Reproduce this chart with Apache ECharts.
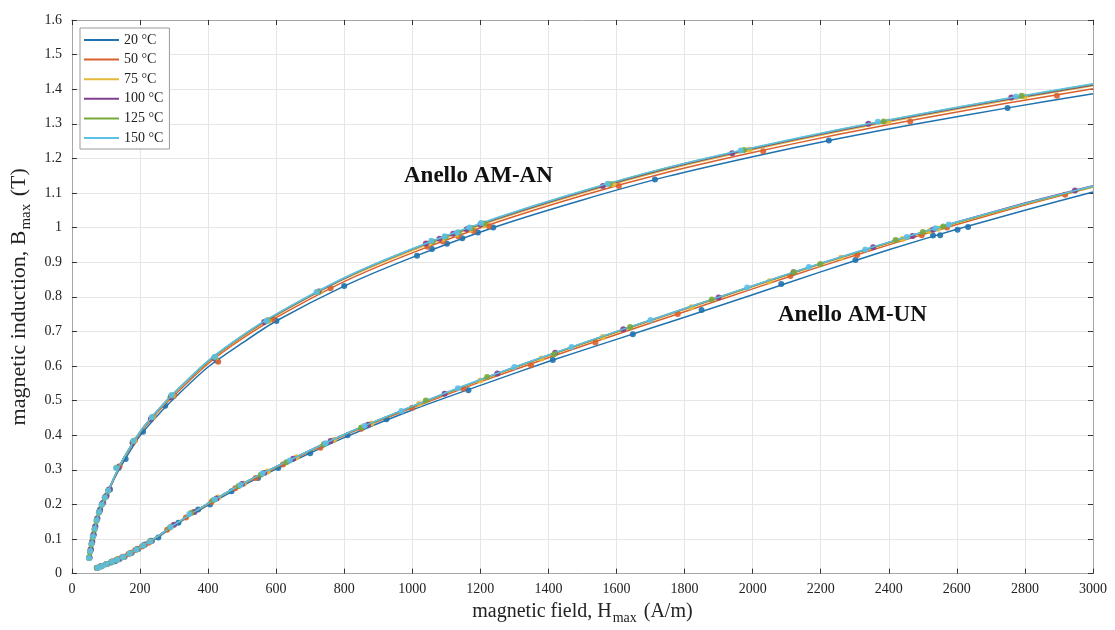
<!DOCTYPE html>
<html>
<head>
<meta charset="UTF-8">
<title>B-H curves</title>
<script type="text/javascript" src="https://cdn.jsdelivr.net/npm/echarts@6/dist/echarts.min.js"></script>
<style>
  html, body { margin: 0; padding: 0; background: #fff; }
</style>
</head>
<body>
<div id="main" style="width: 1115px; height: 630px;"></div>
<script type="text/javascript">
// temperatures / colours
var temps = ['20 °C', '50 °C', '75 °C', '100 °C', '125 °C', '150 °C'];
var colors = ['#1f72ae', '#d9602e', '#e6b93a', '#7e3f8e', '#78a83a', '#5cbfe6'];

// fitted curves, Anello AM-AN (H in A/m, B in T)
var hAN = [50, 60, 70, 80, 100, 125, 150, 200, 250, 300, 400, 500, 600, 800, 1000, 1250, 1500, 1750, 2000, 2250, 2500, 2750, 3000];
var bAN20  = [0.042, 0.090, 0.138, 0.172, 0.220, 0.275, 0.320, 0.398, 0.455, 0.506, 0.597, 0.666, 0.730, 0.831, 0.914, 1.004, 1.080, 1.148, 1.205, 1.257, 1.303, 1.346, 1.387];
var bAN50  = [0.044, 0.093, 0.140, 0.177, 0.223, 0.278, 0.327, 0.405, 0.464, 0.515, 0.607, 0.679, 0.740, 0.844, 0.927, 1.016, 1.093, 1.160, 1.217, 1.269, 1.316, 1.360, 1.401];
var bAN75  = [0.044, 0.094, 0.140, 0.178, 0.224, 0.280, 0.329, 0.408, 0.467, 0.519, 0.611, 0.684, 0.746, 0.851, 0.934, 1.023, 1.100, 1.168, 1.225, 1.277, 1.324, 1.368, 1.410];
var bAN100 = [0.045, 0.094, 0.141, 0.178, 0.225, 0.280, 0.330, 0.409, 0.469, 0.521, 0.613, 0.686, 0.748, 0.853, 0.937, 1.026, 1.103, 1.171, 1.228, 1.280, 1.327, 1.371, 1.412];
var bAN125 = [0.045, 0.095, 0.141, 0.178, 0.225, 0.280, 0.330, 0.410, 0.470, 0.522, 0.614, 0.687, 0.749, 0.854, 0.938, 1.028, 1.105, 1.173, 1.230, 1.282, 1.329, 1.373, 1.414];
var bAN150 = [0.046, 0.095, 0.140, 0.178, 0.225, 0.280, 0.330, 0.410, 0.470, 0.522, 0.615, 0.688, 0.750, 0.855, 0.939, 1.029, 1.106, 1.174, 1.231, 1.283, 1.330, 1.374, 1.416];

// measured points, Anello AM-AN [H, B]
var pAN20 = [[52,0.046],[56,0.070],[60,0.092],[64,0.113],[69,0.137],[75,0.160],[83,0.185],[92,0.205],[102,0.225],[112,0.243],[137,0.305],[158,0.331],[209,0.410],[274,0.485],[425,0.616],[601,0.730],[800,0.831],[1014,0.919],[1058,0.938],[1102,0.953],[1147,0.969],[1193,0.986],[1238,1.000],[1713,1.139],[2224,1.252],[2749,1.346]];
var pAN50 = [[51,0.046],[55,0.068],[59,0.090],[63,0.110],[68,0.133],[74,0.158],[81,0.180],[90,0.203],[100,0.222],[110,0.242],[140,0.310],[185,0.385],[240,0.453],[300,0.515],[430,0.612],[590,0.735],[760,0.825],[1045,0.945],[1090,0.960],[1135,0.975],[1180,0.990],[1225,1.004],[1607,1.120],[2031,1.221],[2463,1.307],[2894,1.381]];
var pAN75 = [[50,0.046],[54,0.066],[58,0.088],[62,0.108],[67,0.131],[73,0.156],[80,0.178],[88,0.200],[97,0.221],[107,0.241],[133,0.306],[183,0.384],[238,0.452],[296,0.515],[422,0.624],[578,0.730],[730,0.815],[1050,0.955],[1090,0.968],[1130,0.981],[1170,0.994],[1210,1.006],[1590,1.125],[1990,1.225],[2400,1.307],[2800,1.379]];
var pAN100 = [[51,0.047],[55,0.070],[59,0.091],[63,0.111],[68,0.134],[74,0.158],[81,0.180],[89,0.202],[99,0.223],[109,0.243],[135,0.307],[178,0.378],[232,0.447],[290,0.510],[418,0.623],[565,0.727],[725,0.815],[1040,0.954],[1080,0.968],[1120,0.982],[1160,0.995],[1200,1.009],[1560,1.120],[1940,1.215],[2340,1.300],[2760,1.376]];
var pAN125 = [[50,0.045],[53,0.062],[57,0.084],[61,0.104],[66,0.127],[72,0.152],[79,0.176],[87,0.198],[96,0.219],[106,0.239],[131,0.306],[180,0.382],[236,0.452],[292,0.514],[420,0.625],[575,0.732],[722,0.814],[1060,0.960],[1098,0.973],[1136,0.986],[1174,0.999],[1212,1.012],[1580,1.126],[1975,1.224],[2385,1.307],[2790,1.381]];
var pAN150 = [[50,0.045],[54,0.065],[58,0.087],[62,0.107],[67,0.130],[73,0.155],[80,0.178],[88,0.200],[97,0.220],[107,0.240],[130,0.305],[181,0.384],[235,0.452],[293,0.516],[420,0.627],[572,0.731],[719,0.814],[1056,0.962],[1095,0.975],[1132,0.986],[1168,1.000],[1202,1.013],[1574,1.127],[1965,1.223],[2368,1.306],[2774,1.379]];

// fitted curves, Anello AM-UN
var hUN = [73, 100, 150, 200, 250, 300, 400, 500, 600, 800, 1000, 1200, 1400, 1600, 1800, 2000, 2200, 2400, 2600, 2800, 3000];
var bUN20  = [0.017, 0.027, 0.047, 0.074, 0.103, 0.138, 0.198, 0.253, 0.302, 0.393, 0.473, 0.544, 0.613, 0.677, 0.741, 0.806, 0.872, 0.936, 0.995, 1.050, 1.103];
var bUN50  = [0.016, 0.027, 0.048, 0.075, 0.105, 0.140, 0.201, 0.257, 0.306, 0.399, 0.479, 0.554, 0.624, 0.691, 0.757, 0.823, 0.888, 0.950, 1.009, 1.065, 1.117];
var bUN75  = [0.016, 0.027, 0.048, 0.076, 0.106, 0.141, 0.202, 0.258, 0.308, 0.401, 0.482, 0.558, 0.629, 0.697, 0.763, 0.829, 0.894, 0.955, 1.013, 1.068, 1.118];
var bUN100 = [0.016, 0.027, 0.048, 0.076, 0.106, 0.141, 0.203, 0.259, 0.309, 0.402, 0.483, 0.560, 0.631, 0.699, 0.765, 0.831, 0.896, 0.957, 1.016, 1.071, 1.121];
var bUN125 = [0.016, 0.027, 0.048, 0.076, 0.106, 0.141, 0.203, 0.259, 0.309, 0.402, 0.483, 0.560, 0.631, 0.699, 0.766, 0.831, 0.896, 0.957, 1.015, 1.069, 1.119];
var bUN150 = [0.016, 0.027, 0.048, 0.076, 0.106, 0.141, 0.203, 0.259, 0.309, 0.402, 0.484, 0.561, 0.632, 0.700, 0.766, 0.832, 0.897, 0.958, 1.016, 1.070, 1.120];

// measured points, Anello AM-UN
var pUN20 = [[73,0.017],[85,0.021],[100,0.027],[115,0.032],[127,0.036],[140,0.042],[155,0.049],[176,0.060],[195,0.071],[215,0.084],[235,0.094],[254,0.104],[313,0.147],[371,0.185],[406,0.200],[469,0.238],[547,0.276],[606,0.305],[700,0.348],[810,0.400],[924,0.446],[1165,0.530],[1413,0.617],[1648,0.692],[1850,0.762],[2084,0.837],[2302,0.906],[2530,0.977],[2551,0.978],[2602,0.994],[2633,1.002]];
var pUN50 = [[74,0.016],[86,0.021],[101,0.027],[116,0.034],[131,0.040],[147,0.047],[166,0.057],[186,0.068],[206,0.078],[226,0.089],[280,0.127],[335,0.162],[410,0.207],[480,0.247],[540,0.276],[620,0.315],[730,0.364],[850,0.419],[1000,0.479],[1150,0.535],[1349,0.602],[1538,0.668],[1780,0.750],[2111,0.860],[2307,0.921],[2497,0.978],[2571,1.000],[2918,1.095]];
var pUN75 = [[76,0.017],[89,0.022],[104,0.028],[120,0.035],[136,0.042],[153,0.049],[173,0.060],[193,0.072],[213,0.083],[233,0.095],[295,0.138],[355,0.177],[430,0.220],[505,0.260],[575,0.295],[660,0.336],[770,0.386],[880,0.434],[1020,0.490],[1200,0.558],[1380,0.622],[1560,0.684],[1820,0.770],[2050,0.845],[2260,0.913],[2440,0.967],[2520,0.990],[2545,0.997]];
var pUN100 = [[75,0.017],[87,0.021],[103,0.028],[119,0.035],[135,0.041],[152,0.049],[172,0.059],[192,0.071],[212,0.083],[232,0.095],[300,0.141],[360,0.178],[425,0.217],[500,0.259],[565,0.291],[650,0.332],[760,0.383],[870,0.430],[1095,0.520],[1250,0.578],[1420,0.638],[1620,0.706],[1900,0.798],[2120,0.871],[2354,0.943],[2470,0.976],[2530,0.994],[2947,1.107]];
var pUN125 = [[74,0.016],[87,0.021],[102,0.028],[117,0.034],[133,0.041],[150,0.048],[170,0.058],[190,0.070],[210,0.081],[230,0.094],[288,0.133],[350,0.175],[415,0.212],[490,0.253],[555,0.286],[630,0.322],[740,0.374],[850,0.422],[1040,0.500],[1220,0.568],[1417,0.634],[1640,0.713],[1880,0.792],[2121,0.871],[2199,0.895],[2420,0.964],[2500,0.987],[2560,1.003]];
var pUN150 = [[75,0.016],[88,0.021],[102,0.028],[118,0.034],[133,0.040],[150,0.048],[170,0.058],[190,0.070],[210,0.081],[230,0.093],[290,0.135],[345,0.172],[420,0.214],[495,0.256],[560,0.289],[640,0.327],[745,0.377],[860,0.427],[968,0.470],[1134,0.536],[1300,0.597],[1468,0.655],[1700,0.733],[1984,0.827],[2165,0.886],[2331,0.937],[2453,0.973],[2537,0.998],[2576,1.009]];

var xTicks = { min: 0, max: 3000, interval: 200 };
var yTicks = { min: 0, max: 1.6, interval: 0.1 };

var fitAN = [bAN20, bAN50, bAN75, bAN100, bAN125, bAN150];
var ptsAN = [pAN20, pAN50, pAN75, pAN100, pAN125, pAN150];
var fitUN = [bUN20, bUN50, bUN75, bUN100, bUN125, bUN150];
var ptsUN = [pUN20, pUN50, pUN75, pUN100, pUN125, pUN150];

var font = '"Liberation Serif", "Times New Roman", serif';

function pair(hs, bs) {
    return hs.map(function (h, k) { return [h, bs[k]]; });
}

var series = [];
temps.forEach(function (t, i) {
    [[hAN, fitAN[i], ptsAN[i]], [hUN, fitUN[i], ptsUN[i]]].forEach(function (c) {
        series.push({
            name: t, type: 'line', data: pair(c[0], c[1]),
            smooth: 0.25, showSymbol: false,
            lineStyle: { width: 1.5, color: colors[i] }, itemStyle: { color: colors[i] },
            z: 2 + i
        });
        series.push({
            name: t, type: 'scatter', data: c[2],
            symbol: 'circle', symbolSize: 6,
            itemStyle: { color: colors[i], opacity: 0.9 },
            z: 3 + i
        });
    });
});

var axisGray = '#a6a6a6';
var tickDark = '#333';

function nameRich(size, sub) {
    return {
        n: { fontFamily: font, fontSize: size, color: '#222', lineHeight: size + 7 },
        s: { fontFamily: font, fontSize: sub, color: '#222', lineHeight: size + 7, verticalAlign: 'bottom', padding: [0, 2, 0, 1] }
    };
}

var myChart = echarts.init(document.getElementById('main'));
var option = {
    animation: false,
    backgroundColor: '#fff',
    grid: { left: 70, right: 22, top: 20, bottom: 54 },
    legend: {
        data: temps, orient: 'vertical', left: 80, top: 28,
        icon: 'rect', itemWidth: 35, itemHeight: 2, itemGap: 5.6,
        padding: [5, 6, 4, 4],
        backgroundColor: '#fff', borderColor: '#9a9a9a', borderWidth: 1,
        textStyle: { fontFamily: font, fontSize: 14, color: '#222' }
    },
    xAxis: [{
        type: 'value', min: xTicks.min, max: xTicks.max, interval: xTicks.interval,
        name: '{n|magnetic field, H}{s|max}{n| (A/m)}',
        nameLocation: 'middle', nameGap: 24,
        nameTextStyle: { color: '#222', rich: nameRich(20, 14) },
        axisLine: { show: true, onZero: false, lineStyle: { color: axisGray, width: 1 } },
        axisTick: { show: true, inside: true, length: 5, lineStyle: { color: tickDark } },
        axisLabel: { fontFamily: font, fontSize: 14, color: '#222', margin: 9,
                     formatter: function (v) { return String(v); } },
        splitLine: { show: true, lineStyle: { color: '#e6e6e6', width: 1 } }
    }, {
        type: 'value', position: 'top', min: xTicks.min, max: xTicks.max, interval: xTicks.interval,
        axisLine: { show: true, onZero: false, lineStyle: { color: axisGray } },
        axisTick: { show: true, inside: true, length: 5, lineStyle: { color: tickDark } },
        axisLabel: { show: false }, splitLine: { show: false }
    }],
    yAxis: [{
        type: 'value', min: yTicks.min, max: yTicks.max, interval: yTicks.interval,
        name: '{n|magnetic induction, B}{s|max}{n| (T)}',
        nameLocation: 'middle', nameGap: 36, nameRotate: 90,
        nameTextStyle: { color: '#222', rich: nameRich(22, 15) },
        axisLine: { show: true, onZero: false, lineStyle: { color: axisGray } },
        axisTick: { show: true, inside: true, length: 5, lineStyle: { color: tickDark } },
        axisLabel: { fontFamily: font, fontSize: 14, color: '#222', margin: 10 },
        splitLine: { show: true, lineStyle: { color: '#e6e6e6', width: 1 } }
    }, {
        type: 'value', position: 'right', min: yTicks.min, max: yTicks.max, interval: yTicks.interval,
        axisLine: { show: true, onZero: false, lineStyle: { color: axisGray } },
        axisTick: { show: true, inside: true, length: 5, lineStyle: { color: tickDark } },
        axisLabel: { show: false }, splitLine: { show: false }
    }],
    graphic: [
        { type: 'text', left: 404, top: 165, z: 50,
          style: { text: 'Anello AM-AN', fontFamily: font, fontSize: 23, fontWeight: 'bold', fill: '#111' } },
        { type: 'text', left: 778, top: 304, z: 50,
          style: { text: 'Anello AM-UN', fontFamily: font, fontSize: 23, fontWeight: 'bold', fill: '#111' } }
    ],
    series: series
};
myChart.setOption(option);
</script>
</body>
</html>
